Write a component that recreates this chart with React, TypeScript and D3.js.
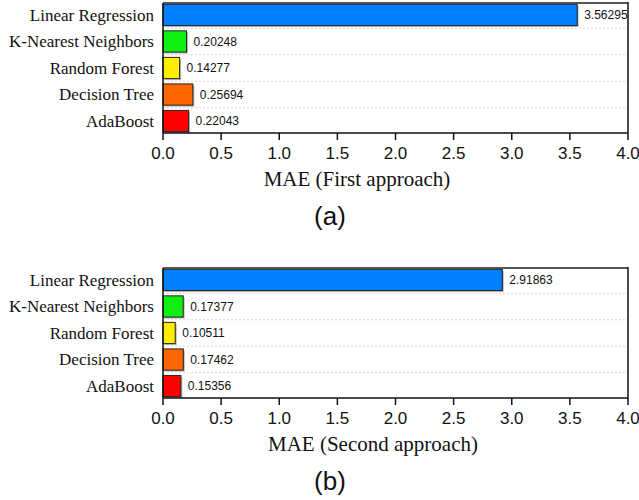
import React from "react";
import * as d3 from "d3";

const models = ["Linear Regression", "K-Nearest Neighbors", "Random Forest", "Decision Tree", "AdaBoost"];
const maeFirst = [3.56295, 0.20248, 0.14277, 0.25694, 0.22043];
const maeSecond = [2.91863, 0.17377, 0.10511, 0.17462, 0.15356];
const barColors = ["#0080ff", "#11ee11", "#ffee00", "#ff6600", "#ff0000"];
const xTicks = [0, 0.5, 1.0, 1.5, 2.0, 2.5, 3.0, 3.5, 4.0];

const serif = "'Liberation Serif', 'Times New Roman', serif";
const sans = "'Liberation Sans', Arial, sans-serif";

const left = 163;
const right = 628;

type PanelProps = {
  top: number;
  values: number[];
  title: string;
  titleX: number;
  label: string;
};

const Panel = ({ top, values, title, titleX, label }: PanelProps) => {
  const bottom = top + 130;
  const x = d3.scaleLinear().domain([0, 4]).range([left, right]);
  const y = d3.scaleBand<string>().domain(models).range([top, bottom]).paddingInner(0.2).paddingOuter(0.05);
  const step = y.step();
  const gap = step * 0.2;

  return (
    <g>
      {/* dotted separators */}
      {models.slice(1).map((m) => (
        <line key={m} x1={left} x2={right} y1={(y(m) ?? 0) - gap / 2} y2={(y(m) ?? 0) - gap / 2}
          stroke="#d8d8d8" strokeWidth={1} strokeDasharray="2,2" />
      ))}
      {models.map((m, i) => (
        <g key={m}>
          <rect x={x(0) + 1.5} y={(y(m) ?? 0) + 1.5} width={x(values[i]) - x(0)} height={y.bandwidth()} fill="#bbb" />
          <rect x={x(0)} y={y(m)} width={x(values[i]) - x(0)} height={y.bandwidth()}
            fill={barColors[i]} stroke="#222" strokeWidth={1} />
          <text x={x(values[i]) + 7} y={(y(m) ?? 0) + y.bandwidth() / 2} dy="0.35em"
            fontFamily={sans} fontSize={12} fill="#111">{values[i].toFixed(5)}</text>
          <text x={left - 9} y={(y(m) ?? 0) + y.bandwidth() / 2} dy="0.33em" textAnchor="end"
            fontFamily={serif} fontSize={17} fill="#111">{m}</text>
        </g>
      ))}
      {/* frame */}
      <line x1={left} x2={right} y1={top} y2={top} stroke="#555" strokeWidth={2} />
      <line x1={right} x2={right} y1={top - 1} y2={bottom} stroke="#111" strokeWidth={1.5} />
      <line x1={left} x2={left} y1={top} y2={bottom} stroke="#111" strokeWidth={1.5} />
      <line x1={left} x2={right} y1={bottom} y2={bottom} stroke="#111" strokeWidth={1.5} />
      {xTicks.map((t) => (
        <g key={t}>
          <line x1={x(t)} x2={x(t)} y1={bottom} y2={bottom + 7} stroke="#111" strokeWidth={1.5} />
          <text x={x(t)} y={bottom + 26} textAnchor="middle" fontFamily={sans} fontSize={17} fill="#111">
            {t.toFixed(1)}
          </text>
        </g>
      ))}
      <text x={titleX} y={bottom + 53} textAnchor="middle" fontFamily={serif} fontSize={21} fill="#111">{title}</text>
      <text x={330} y={bottom + 92} textAnchor="middle" fontFamily={sans} fontSize={26} fill="#111">{label}</text>
    </g>
  );
};

export default function App() {
  return (
    <svg width={639} height={500} style={{ position: "absolute", left: 0, top: 0, background: "#fff" }}>
      <rect width={639} height={500} fill="#fff" />
      <Panel top={3} values={maeFirst} title="MAE (First approach)" titleX={357} label="(a)" />
      <Panel top={268} values={maeSecond} title="MAE (Second approach)" titleX={373} label="(b)" />
    </svg>
  );
}
